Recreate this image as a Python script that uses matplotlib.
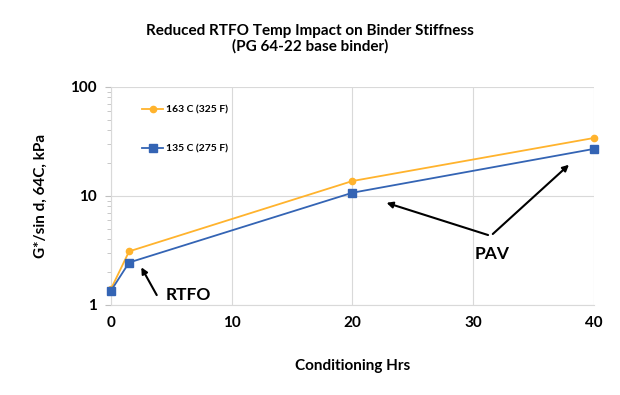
import matplotlib
matplotlib.use("Agg")
import matplotlib.pyplot as plt
from matplotlib.ticker import LogLocator, NullFormatter, FixedLocator

plt.rcParams['font.family'] = ['Lato', 'DejaVu Sans']
plt.rcParams['font.weight'] = 'bold'

hours = [0, 1.5, 20, 40]
g_163 = [1.4, 3.1, 13.7, 34]
g_135 = [1.35, 2.45, 10.7, 27]
labels = ["163 C (325 F)", "135 C (275 F)"]
xticks = [0, 10, 20, 30, 40]
yticks = [1, 10, 100]

orange = "#FFB32D"
blue = "#3464B4"

fig = plt.figure(figsize=(6.2, 3.95), dpi=100)
ax = fig.add_axes([0.179, 0.228, 0.779, 0.552])

ax.plot(hours, g_163, color=orange, lw=1.3, marker='o', ms=4.5, label=labels[0], zorder=3, clip_on=False)
ax.plot(hours, g_135, color=blue, lw=1.3, marker='s', ms=5.5, label=labels[1], zorder=3, clip_on=False)

ax.set_yscale('log')
ax.set_ylim(1, 100)
ax.set_xlim(0, 40)
ax.set_xticks(xticks)
ax.set_xticklabels([str(t) for t in xticks], fontsize=11, fontweight='bold')
ax.yaxis.set_major_locator(FixedLocator(yticks))
ax.set_yticklabels([str(t) for t in yticks], fontsize=11, fontweight='bold')
ax.yaxis.set_minor_locator(LogLocator(base=10, subs=range(2, 10)))
ax.yaxis.set_minor_formatter(NullFormatter())
ax.tick_params(axis='y', which='major', length=4, color='#BFBFBF', pad=6)
ax.tick_params(axis='y', which='minor', length=3, color='#BFBFBF')
ax.tick_params(axis='x', length=0, pad=8)

ax.grid(True, which='major', color='#D9D9D9', lw=0.8)
for s in ['top', 'right']:
    ax.spines[s].set_visible(False)
ax.spines['left'].set_color('#D9D9D9')
ax.spines['bottom'].set_color('#D9D9D9')

ax.set_xlabel("Conditioning Hrs", fontsize=11, fontweight='bold', labelpad=21)
ax.set_ylabel("G*/sin d, 64C, kPa", fontsize=11, fontweight='bold', labelpad=16)

fig.suptitle("Reduced RTFO Temp Impact on Binder Stiffness\n(PG 64-22 base binder)",
             fontsize=11, fontweight='bold', y=0.94, linespacing=1.1)

leg = ax.legend(loc='upper left', bbox_to_anchor=(0.045, 0.96), frameon=False,
                prop={'size': 7.5, 'weight': 'bold'}, labelspacing=2.9,
                handlelength=2.0, handletextpad=0.3)

arrowprops = dict(arrowstyle='-|>', color='black', lw=1.5, mutation_scale=9)
ax.annotate("", xy=(2.4, 2.33), xytext=(3.9, 1.17), arrowprops=arrowprops)
ax.text(4.5, 1.24, "RTFO", fontsize=12.5, fontweight='bold', va='center', ha='left')

ax.annotate("", xy=(38.1, 20.1), xytext=(31.45, 4.3), arrowprops=arrowprops)
ax.annotate("", xy=(22.6, 8.8), xytext=(31.45, 4.3), arrowprops=arrowprops)
ax.text(31.6, 2.95, "PAV", fontsize=12.5, fontweight='bold', va='center', ha='center')

fig.savefig("out.png", dpi=100)
